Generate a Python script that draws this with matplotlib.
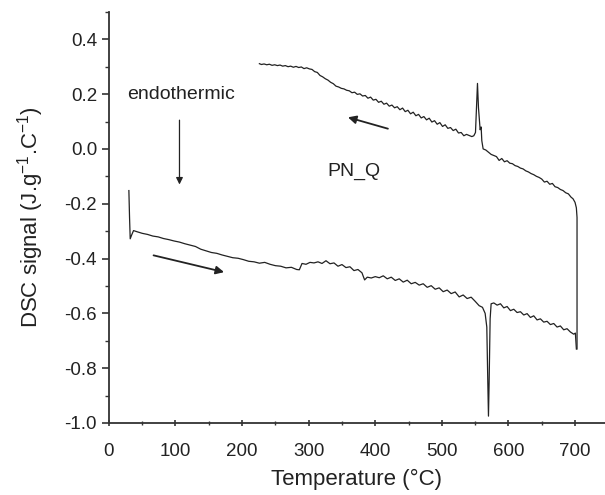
import numpy as np
import matplotlib
matplotlib.use('Agg')
import matplotlib.pyplot as plt
from matplotlib.ticker import MultipleLocator

plt.rcParams['font.family'] = ['Liberation Sans', 'DejaVu Sans']
plt.rcParams['mathtext.default'] = 'regular'

# heating run (low -> high temperature)
heat_T = [30, 31, 32, 34, 37, 42, 50, 58, 66, 74, 82, 90, 98, 106, 114, 122, 130, 138, 146, 154,
          162, 170, 178, 186, 194, 202, 210, 218, 226, 234, 242, 250, 258, 266, 274, 282, 286, 290,
          296, 302, 308, 314, 320, 326, 332, 338, 344, 350, 356, 362, 368, 374, 380, 384, 388, 394,
          400, 406, 412, 418, 424, 430, 436, 442, 448, 454, 460, 466, 472, 478, 484, 490, 496, 502,
          508, 514, 520, 526, 532, 538, 544, 550, 556, 561, 565, 567.5, 569, 570, 571, 572.5, 574,
          578, 583, 588, 593, 598, 603, 608, 613, 618, 623, 628, 633, 638, 643, 648, 653, 658, 663,
          668, 673, 678, 683, 688, 693, 698, 700.5, 702]
heat_S = [-0.152, -0.25, -0.328, -0.315, -0.298, -0.302, -0.308, -0.312, -0.318, -0.321, -0.327,
          -0.331, -0.336, -0.340, -0.346, -0.351, -0.356, -0.366, -0.372, -0.378, -0.381, -0.387,
          -0.392, -0.397, -0.399, -0.404, -0.410, -0.412, -0.417, -0.414, -0.421, -0.426, -0.428,
          -0.434, -0.432, -0.440, -0.441, -0.418, -0.421, -0.414, -0.416, -0.412, -0.418, -0.408,
          -0.419, -0.416, -0.428, -0.422, -0.433, -0.430, -0.444, -0.440, -0.452, -0.478, -0.468,
          -0.471, -0.466, -0.470, -0.463, -0.474, -0.468, -0.480, -0.474, -0.486, -0.479, -0.492,
          -0.487, -0.497, -0.492, -0.505, -0.499, -0.512, -0.507, -0.521, -0.515, -0.528, -0.522,
          -0.540, -0.533, -0.546, -0.541, -0.556, -0.572, -0.578, -0.600, -0.650, -0.85, -0.975,
          -0.85, -0.62, -0.565, -0.562, -0.570, -0.565, -0.580, -0.575, -0.590, -0.585, -0.597,
          -0.594, -0.606, -0.601, -0.615, -0.609, -0.624, -0.620, -0.632, -0.629, -0.641, -0.637,
          -0.650, -0.646, -0.660, -0.656, -0.668, -0.676, -0.672, -0.73]

# cooling run (high -> low temperature)
cool_T = [703, 703, 702, 700, 697, 694, 690, 686, 682, 678, 674, 670, 666, 662, 658, 654, 650, 646,
          642, 638, 634, 630, 626, 622, 618, 614, 610, 606, 602, 598, 594, 590, 586, 582, 578, 574,
          570, 566, 562, 560, 559, 557.5, 555, 553.5, 552, 550.5, 548, 545, 541, 537, 533, 529, 525,
          521, 517, 513, 509, 505, 501, 497, 493, 489, 485, 481, 477, 473, 469, 465, 461, 457, 453,
          449, 445, 441, 437, 433, 429, 425, 421, 417, 413, 409, 405, 401, 397, 393, 389, 385, 381,
          377, 373, 369, 365, 361, 357, 353, 349, 345, 341, 337, 333, 329, 325, 321, 317, 313, 309,
          305, 301, 297, 293, 289, 285, 281, 277, 273, 269, 265, 261, 257, 253, 249, 245, 241, 237,
          233, 229, 226]
cool_S = [-0.73, -0.25, -0.215, -0.195, -0.182, -0.176, -0.164, -0.160, -0.152, -0.148, -0.141,
          -0.138, -0.126, -0.129, -0.118, -0.121, -0.110, -0.104, -0.100, -0.094, -0.090, -0.084,
          -0.080, -0.073, -0.070, -0.064, -0.061, -0.054, -0.052, -0.043, -0.047, -0.035, -0.042,
          -0.028, -0.024, -0.020, -0.012, -0.004, 0.0, 0.03, 0.08, 0.07, 0.15, 0.239, 0.15, 0.06,
          0.048, 0.045, 0.049, 0.053, 0.048, 0.060, 0.058, 0.072, 0.067, 0.078, 0.075, 0.088, 0.082,
          0.096, 0.090, 0.103, 0.098, 0.112, 0.106, 0.118, 0.113, 0.126, 0.121, 0.134, 0.128, 0.141,
          0.136, 0.149, 0.143, 0.154, 0.150, 0.160, 0.156, 0.167, 0.163, 0.174, 0.170, 0.181, 0.178,
          0.189, 0.185, 0.195, 0.193, 0.201, 0.199, 0.207, 0.205, 0.212, 0.214, 0.219, 0.221, 0.226,
          0.229, 0.238, 0.243, 0.251, 0.256, 0.263, 0.268, 0.279, 0.282, 0.290, 0.292, 0.296, 0.293,
          0.299, 0.297, 0.301, 0.298, 0.302, 0.300, 0.304, 0.302, 0.306, 0.304, 0.307, 0.305, 0.309,
          0.307, 0.310, 0.308, 0.311]

fig = plt.figure(figsize=(6.05, 4.95), dpi=100)
ax = fig.add_axes([0.180, 0.1455, 0.82, 0.8305])

ax.plot(heat_T, heat_S, color='#222222', lw=0.9)
ax.plot(cool_T, cool_S, color='#222222', lw=0.9)

ax.set_xlim(0, 745)
ax.set_ylim(-1.0, 0.5)
ax.xaxis.set_major_locator(MultipleLocator(100))
ax.xaxis.set_minor_locator(MultipleLocator(50))
ax.yaxis.set_major_locator(MultipleLocator(0.2))
ax.yaxis.set_minor_locator(MultipleLocator(0.1))
ax.yaxis.set_major_formatter(plt.FuncFormatter(lambda v, p: '%.1f' % v))

for s in ['top', 'right']:
    ax.spines[s].set_visible(False)
for s in ['left', 'bottom']:
    ax.spines[s].set_linewidth(1.3)
    ax.spines[s].set_color('#333333')

ax.tick_params(which='major', length=5, width=1.2, labelsize=13.5, colors='#333333', labelcolor='#222222')
ax.tick_params(which='minor', length=3, width=1.0, colors='#333333')
ax.tick_params(axis='x', which='both', direction='inout')
ax.tick_params(axis='x', which='major', pad=12)

ax.set_xlabel('Temperature (\u00b0C)', fontsize=16, color='#222222', labelpad=6)
ax.set_ylabel('DSC signal (J.g$^{-1}$.C$^{-1}$)', fontsize=16, color='#222222', labelpad=13)

# annotations
ax.text(108, 0.2, 'endothermic', fontsize=14, ha='center', va='center', color='#222222')
ax.annotate('', xy=(106, -0.14), xytext=(106, 0.115),
            arrowprops=dict(arrowstyle='-|>', color='#222222', lw=0.9, mutation_scale=10))
ax.annotate('', xy=(177, -0.452), xytext=(63, -0.386),
            arrowprops=dict(arrowstyle='-|>', color='#222222', lw=1.3, mutation_scale=12))
ax.annotate('', xy=(355, 0.118), xytext=(423, 0.071),
            arrowprops=dict(arrowstyle='-|>', color='#222222', lw=1.3, mutation_scale=12))
ax.text(368, -0.083, 'PN_Q', fontsize=14, ha='center', va='center', color='#222222')

plt.savefig('out.png', dpi=100)
